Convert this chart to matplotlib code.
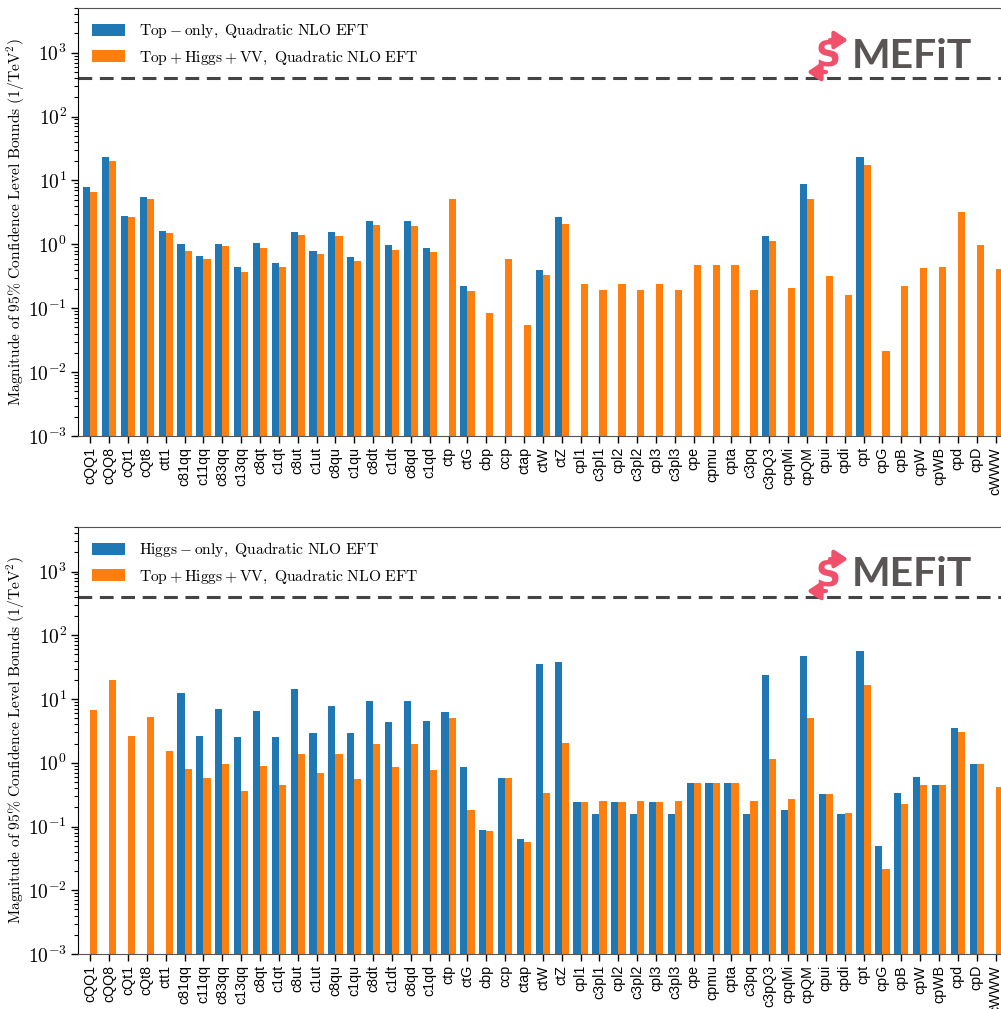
import matplotlib
matplotlib.use("Agg")
import matplotlib.pyplot as plt
import numpy as np
from matplotlib.patches import FancyArrowPatch
from matplotlib.ticker import FuncFormatter

plt.rcParams['mathtext.fontset'] = 'cm'

coeffs = ["cQQ1", "cQQ8", "cQt1", "cQt8", "ctt1", "c81qq", "c11qq", "c83qq", "c13qq",
          "c8qt", "c1qt", "c8ut", "c1ut", "c8qu", "c1qu", "c8dt", "c1dt", "c8qd", "c1qd",
          "ctp", "ctG", "cbp", "ccp", "ctap", "ctW", "ctZ", "cpl1", "c3pl1", "cpl2",
          "c3pl2", "cpl3", "c3pl3", "cpe", "cpmu", "cpta", "c3pq", "c3pQ3", "cpqMi",
          "cpQM", "cpui", "cpdi", "cpt", "cpG", "cpB", "cpW", "cpWB", "cpd", "cpD", "cWWW"]

N = None
top_only = [7.8, 23.0, 2.82, 5.6, 1.64, 1.02, 0.66, 1.02, 0.445, 1.06, 0.515, 1.58, 0.795,
            1.58, 0.64, 2.36, 0.988, 2.36, 0.886, N, 0.224, N, N, N, 0.40, 2.63,
            N, N, N, N, N, N, N, N, N, N, 1.37, N, 8.67, N, N, 23.0,
            N, N, N, N, N, N, N]
global_top = [6.7, 20.0, 2.63, 5.2, 1.53, 0.795, 0.595, 0.953, 0.372, 0.886, 0.445, 1.42,
              0.713, 1.37, 0.554, 2.04, 0.824, 1.97, 0.767, 5.2, 0.187, 0.0843, 0.595,
              0.0546, 0.333, 2.11, 0.241, 0.194, 0.241, 0.194, 0.241, 0.194, 0.479, 0.479,
              0.479, 0.194, 1.14, 0.208, 5.04, 0.322, 0.162, 17.3, 0.0213, 0.224, 0.43,
              0.445, 3.15, 0.988, 0.414]
higgs_only = [N, N, N, N, N, 12.6, 2.66, 7.05, 2.56, 6.56, 2.56, 14.5, 2.96, 7.85, 2.96,
              9.4, 4.4, 9.4, 4.57, 6.32, 0.866, 0.0887, 0.581, 0.064, 35.9, 38.6, 0.244,
              0.158, 0.244, 0.158, 0.244, 0.158, 0.485, 0.485, 0.485, 0.158, 24.1, 0.183,
              48.0, 0.326, 0.158, 57.4, 0.0497, 0.338, 0.603, 0.451, 3.54, 0.964, N]
global_bottom = [6.8, 20.1, 2.66, 5.28, 1.54, 0.805, 0.581, 0.965, 0.363, 0.897, 0.451, 1.38,
                 0.697, 1.38, 0.561, 1.99, 0.866, 1.99, 0.776, 5.09, 0.183, 0.0855, 0.581,
                 0.0574, 0.338, 2.06, 0.244, 0.253, 0.244, 0.253, 0.244, 0.253, 0.485, 0.485,
                 0.485, 0.253, 1.16, 0.272, 5.09, 0.326, 0.164, 16.8, 0.0216, 0.227, 0.451,
                 0.451, 3.07, 0.964, 0.42]

panels = [
    (top_only, global_top,
     r'$\mathrm{Top-only,\ Quadratic\ NLO\ EFT}$',
     r'$\mathrm{Top+Higgs+VV,\ Quadratic\ NLO\ EFT}$'),
    (higgs_only, global_bottom,
     r'$\mathrm{Higgs-only,\ Quadratic\ NLO\ EFT}$',
     r'$\mathrm{Top+Higgs+VV,\ Quadratic\ NLO\ EFT}$'),
]

perturbative_limit = 400
ylabel = r'$\mathrm{Magnitude\ of\ 95\%\ Confidence\ Level\ Bounds\ (1/TeV^2)}$'

W, H = 1001, 1009
fig = plt.figure(figsize=(W / 100, H / 100), dpi=100)

x = np.arange(len(coeffs))
width = 0.38
xl, xr = -0.65, 48.65
px_per = 18.86
ax_w = (xr - xl) * px_per / W

axes_boxes = [(78 / W, 1 - 436 / H, ax_w, 428 / H),
              (78 / W, 1 - 954 / H, ax_w, 427 / H)]

blue = '#1f77b4'
orange = '#ff7f0e'

def fx(px):
    return px / W

def fy(py):
    return 1 - py / H

yfmt = FuncFormatter(lambda v, p: r'$10^{%d}$' % int(round(np.log10(v))))

for (s1, s2, l1, l2), box, yoff in zip(panels, axes_boxes, [0, 519]):
    ax = fig.add_axes(box)
    i1 = [i for i, v in enumerate(s1) if v is not None]
    i2 = [i for i, v in enumerate(s2) if v is not None]
    ax.bar(x[i1] - width / 2, [s1[i] for i in i1], width, color=blue, label=l1)
    ax.bar(x[i2] + width / 2, [s2[i] for i in i2], width, color=orange, label=l2)
    ax.axhline(perturbative_limit, color='#444444', ls=(0, (4.5, 2.5)), lw=2.2)
    ax.set_yscale('log')
    ax.set_ylim(1e-3, 5e3)
    ax.yaxis.set_major_formatter(yfmt)
    ax.set_xlim(xl, xr)
    ax.set_xticks(x)
    ax.set_xticklabels(coeffs, rotation=90, fontsize=10.3, family='Liberation Sans')
    ax.tick_params(axis='y', labelsize=14, length=5, width=1, pad=3)
    ax.tick_params(axis='y', which='minor', length=3, width=0.8)
    ax.tick_params(axis='x', length=5, width=1, labelsize=10.3, pad=3)
    ax.set_ylabel(ylabel, fontsize=11.2)
    ax.yaxis.set_label_coords(-0.055, 0.5)
    for sp in ['bottom', 'top']:
        ax.spines[sp].set_color('#555555')
    ax.spines['left'].set_color('black')
    ax.legend(loc='upper left', frameon=False, fontsize=11.2,
              handlelength=2.15, handleheight=0.8, handletextpad=0.85,
              labelspacing=0.55)

    # SMEFiT logo
    red = '#f0506a'
    gray = '#5a5555'
    fig.text(fx(828), fy(56 + yoff), 'S', color=red, fontsize=25, fontweight='bold',
             family='DejaVu Sans', ha='center', va='center')
    fig.patches.append(FancyArrowPatch((fx(830), fy(40 + yoff)), (fx(848), fy(40 + yoff)),
                                       transform=fig.transFigure,
                                       arrowstyle='-|>,head_length=6,head_width=4',
                                       color=red, lw=3.0, mutation_scale=1.3,
                                       shrinkA=0, shrinkB=0))
    fig.patches.append(FancyArrowPatch((fx(826), fy(72 + yoff)), (fx(807), fy(72 + yoff)),
                                       transform=fig.transFigure,
                                       arrowstyle='-|>,head_length=6,head_width=4',
                                       color=red, lw=3.0, mutation_scale=1.3,
                                       shrinkA=0, shrinkB=0))
    fig.text(fx(852), fy(56 + yoff), 'MEFiT', color=gray, fontsize=29.5, fontweight='bold',
             family='Lato', ha='left', va='center')

fig.savefig('out.png', dpi=100)
